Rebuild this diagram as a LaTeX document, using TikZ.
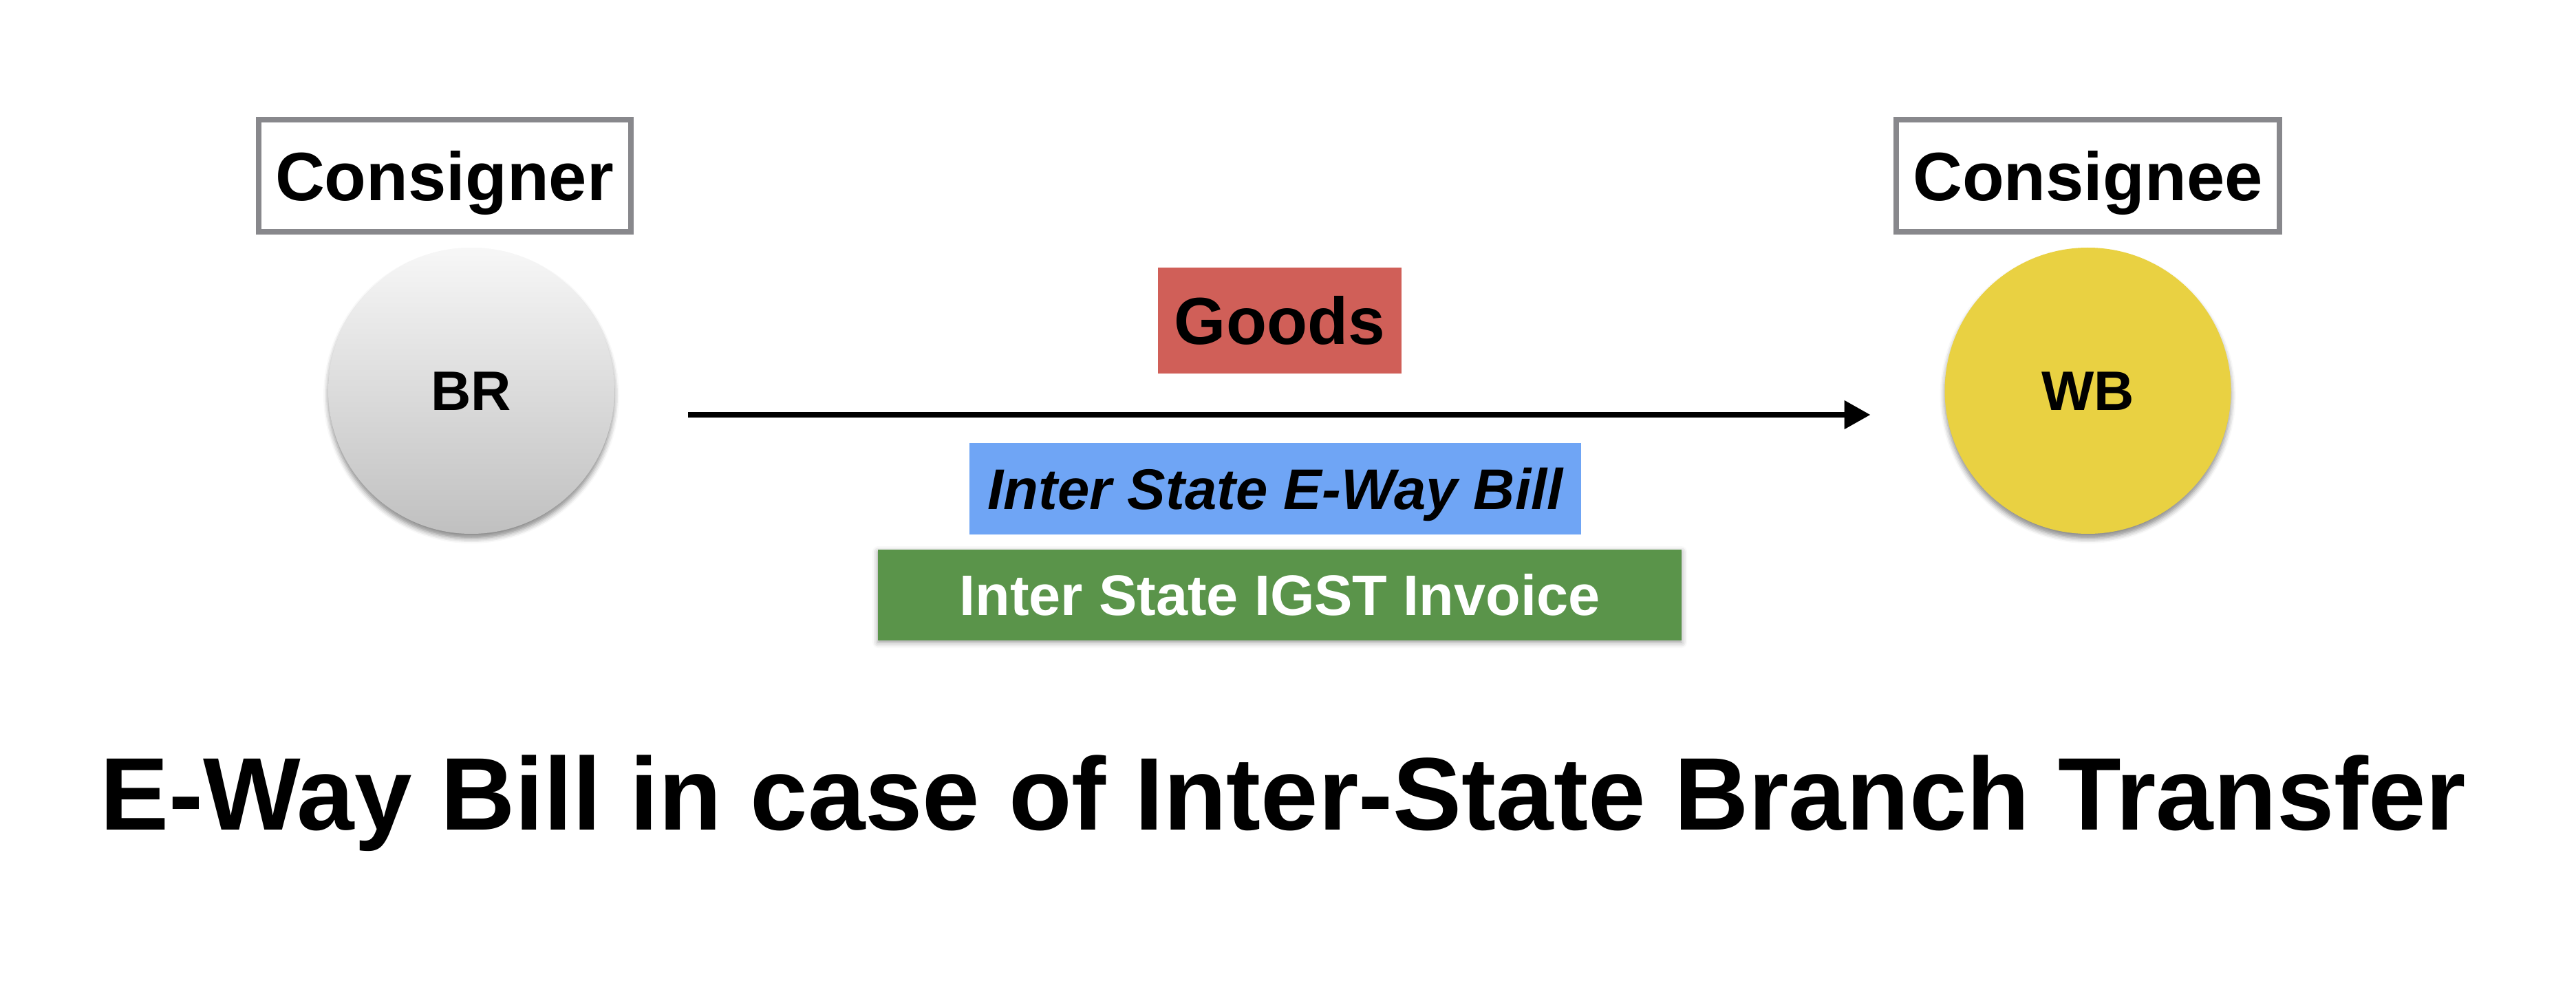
\documentclass[tikz,border=0pt]{standalone}
\usepackage{fontspec}
\setmainfont{Liberation Sans}
\usetikzlibrary{positioning,arrows.meta,shadows.blur}

\definecolor{framegray}{RGB}{136,136,140}
\definecolor{balltop}{RGB}{247,247,247}
\definecolor{ballbottom}{RGB}{192,192,192}
\definecolor{wbyellow}{RGB}{233,209,66}
\definecolor{goodsred}{RGB}{208,95,88}
\definecolor{billblue}{RGB}{111,165,245}
\definecolor{invgreen}{RGB}{90,148,74}

\begin{document}
\begin{tikzpicture}[node distance=1cm,
		cap/.style={font=\bfseries\fontsize{#1}{#1}\selectfont, text height=0.716*#1pt, text depth=0pt, inner sep=0pt, outer sep=0pt},
		party/.style={draw=framegray, line width=0.08cm, minimum height=1.63cm},
		ball/.style={circle, minimum size=4.16cm, blur shadow={shadow xshift=0cm, shadow yshift=-0.07cm, shadow blur radius=0.07cm, shadow opacity=45}},
		tag/.style={minimum height=1.33cm}]
			\useasboundingbox (0,0) rectangle (37.44,-14.61);

			\node(br) [ball, cap=23, top color=balltop, bottom color=ballbottom] at (6.85,-5.68) {BR};
			\node(wb) [ball, cap=23, fill=wbyellow] at (30.345,-5.68) {WB};
			\node(consigner) [party, cap=28.3, minimum width=5.41cm, above=0.23cm of br, xshift=-0.39cm] {Consigner};
			\node(consignee) [party, cap=28.3, minimum width=5.57cm, above=0.23cm of wb] {Consignee};

			\node(goods) [tag, cap=27.5, fill=goodsred, minimum width=3.54cm, minimum height=1.54cm] at (18.6,-4.66) {Goods};
			\node(bill) [tag, cap=23.7, fill=billblue, minimum width=8.89cm, below=1.01cm of goods, xshift=-0.065cm] {\itshape Inter State E-Way Bill};
			\node(invoice) [tag, cap=23.6, fill=invgreen, text=white, minimum width=11.68cm, minimum height=1.32cm, below=0.22cm of bill, xshift=0.065cm, blur shadow={shadow xshift=0cm, shadow yshift=-0.03cm, shadow blur radius=0.08cm, shadow opacity=40}] {Inter State IGST Invoice};

			\node(title) [cap=42.7] at (18.65,-11.525) {E-Way Bill in case of Inter-State Branch Transfer};

			\draw[line width=0.08cm, -{Triangle[length=0.38cm,width=0.40cm]}, shorten <=1.07cm, shorten >=1.08cm] ([yshift=-0.35cm]br.east) -- ([yshift=-0.35cm]wb.west);
		\end{tikzpicture}
\end{document}
